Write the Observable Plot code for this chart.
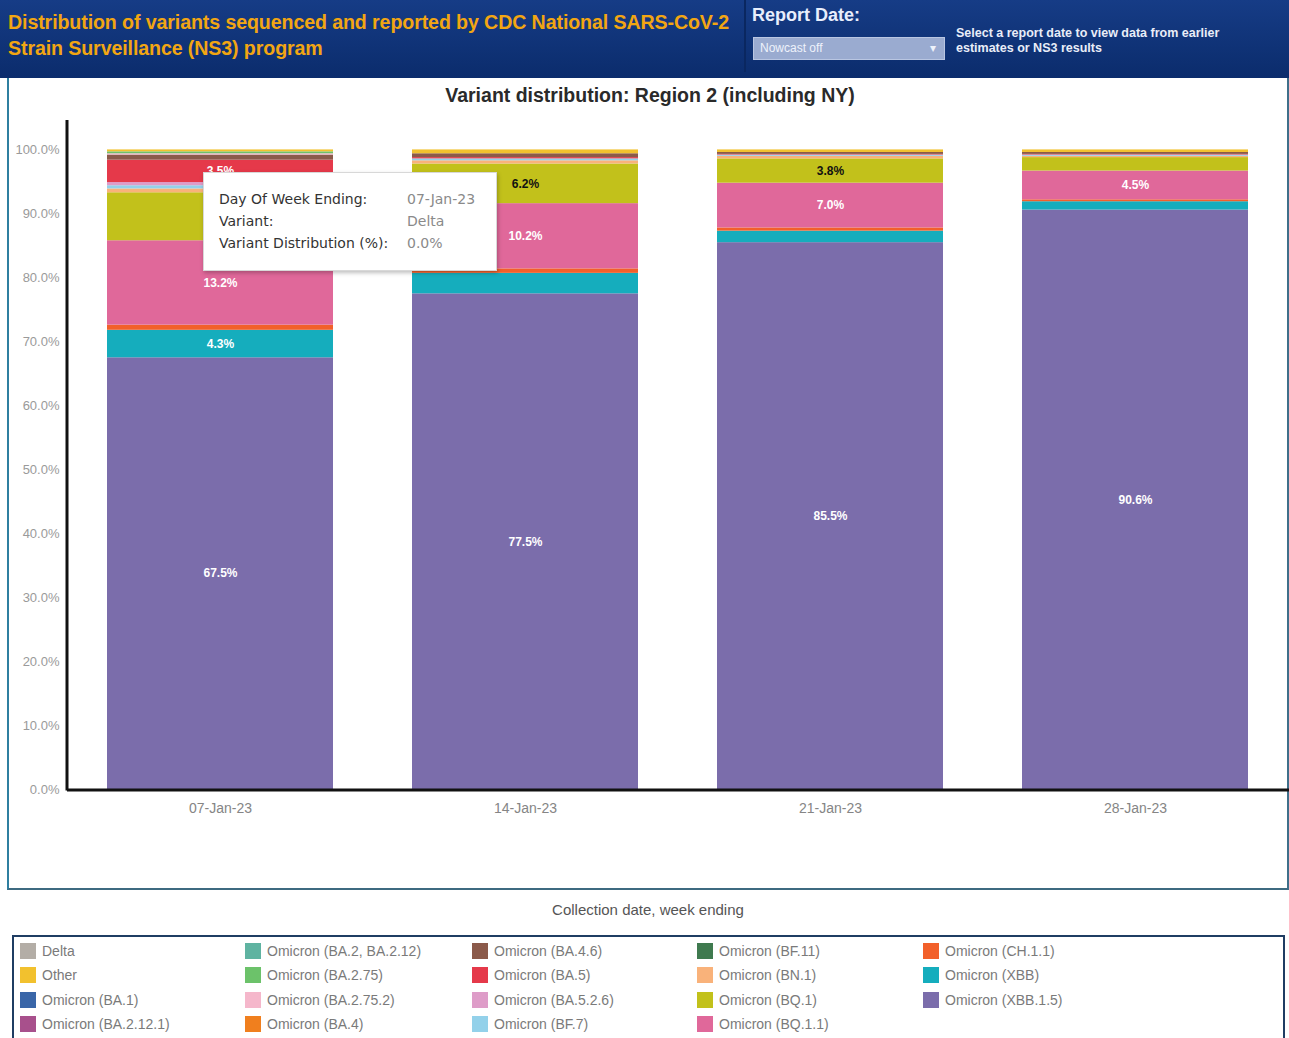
<!DOCTYPE html>
<html>
<head>
<meta charset="utf-8">
<script src="https://cdn.jsdelivr.net/npm/d3@7"></script>
<script src="https://cdn.jsdelivr.net/npm/@observablehq/plot@0.6"></script>
<style>
  html, body { margin: 0; padding: 0; background: #fff; }
  body { width: 1289px; height: 1038px; position: relative; overflow: hidden; font-family: "Liberation Sans", Arial, sans-serif; }
  #header { position: absolute; left: 0; top: 0; width: 1289px; height: 78px; background: linear-gradient(#163c86, #0b2c6c); }
  #title { position: absolute; left: 8px; top: 9px; color: #f2a612; font-weight: bold; font-size: 19.6px; line-height: 26px; letter-spacing: -0.1px; white-space: nowrap; }
  #divider { position: absolute; left: 744px; top: 0; width: 2px; height: 72px; background: #0a2760; }
  #rd { position: absolute; left: 752px; top: 5px; color: #e8eefc; font-weight: bold; font-size: 18px; }
  #dd { position: absolute; left: 753px; top: 37px; width: 192px; height: 23px; background: #9aabd0; border: 1px solid #b9c6e2; box-sizing: border-box; color: #eef2fb; font-size: 12px; line-height: 21px; padding-left: 6px; }
  #dd span { position: absolute; right: 8px; top: 0; }
  #note { position: absolute; left: 956px; top: 26px; color: #e9edf8; font-weight: bold; font-size: 12.5px; line-height: 15px; white-space: nowrap; }
  #panel { position: absolute; left: 7px; top: 78px; width: 1282px; height: 812px; border-left: 2px solid #2f7fa0; border-right: 2px solid #3f6f8a; border-bottom: 2px solid #3d6a80; box-sizing: border-box; }
  #ctitle { position: absolute; left: 0; width: 1300px; top: 84px; text-align: center; font-size: 19.5px; font-weight: bold; color: #2a2a2a; }
  #chart { position: absolute; left: 0; top: 78px; }
  #tip { position: absolute; left: 203px; top: 172px; width: 294px; height: 99px; background: #fff; border: 1px solid #d8d8d8; box-shadow: 1px 2px 4px rgba(0,0,0,0.25); box-sizing: border-box; font-family: "DejaVu Sans", sans-serif; font-size: 14px; color: #333; }
  #tip div { position: absolute; left: 15px; }
  #tip .v { left: 203px; color: #8a8a8a; }
  #xtitle { position: absolute; left: 0; width: 1296px; top: 901px; text-align: center; font-size: 15px; color: #555; }
  #legend { position: absolute; left: 12px; top: 935px; width: 1273px; height: 110px; border: 2px solid #1f3d63; box-sizing: border-box; }
  .li { position: absolute; font-size: 14px; color: #7a7a7a; line-height: 16px; white-space: nowrap; }
  .li i { display: inline-block; width: 16px; height: 16px; vertical-align: top; margin-right: 6px; }
</style>
</head>
<body>
<div id="header">
  <div id="title">Distribution of variants sequenced and reported by CDC National SARS-CoV-2<br>Strain Surveillance (NS3) program</div>
  <div id="divider"></div>
  <div id="rd">Report Date:</div>
  <div id="dd">Nowcast off<span>▾</span></div>
  <div id="note">Select a report date to view data from earlier<br>estimates or NS3 results</div>
</div>
<div id="panel"></div>
<div id="ctitle">Variant distribution: Region 2 (including NY)</div>
<div id="chart"></div>
<div id="tip">
  <div style="top:18px">Day Of Week Ending:</div><div class="v" style="top:18px">07-Jan-23</div>
  <div style="top:40px">Variant:</div><div class="v" style="top:40px">Delta</div>
  <div style="top:62px">Variant Distribution (%):</div><div class="v" style="top:62px">0.0%</div>
</div>
<div id="xtitle">Collection date, week ending</div>
<div id="legend"></div>
<script>
// ---- data ----
const weeks = ["07-Jan-23", "14-Jan-23", "21-Jan-23", "28-Jan-23"];
const variants = [
  "Delta", "Other", "Omicron (BA.1)", "Omicron (BA.2.12.1)",
  "Omicron (BA.2, BA.2.12)", "Omicron (BA.2.75)", "Omicron (BA.2.75.2)", "Omicron (BA.4)",
  "Omicron (BA.4.6)", "Omicron (BA.5)", "Omicron (BA.5.2.6)", "Omicron (BF.7)",
  "Omicron (BF.11)", "Omicron (BN.1)", "Omicron (BQ.1)", "Omicron (BQ.1.1)",
  "Omicron (CH.1.1)", "Omicron (XBB)", "Omicron (XBB.1.5)"
];
const colors = [
  "#b3ada6", "#f2c12e", "#3a66a8", "#a8508c",
  "#5fb3a1", "#6cc26a", "#f5b7cb", "#f07f1e",
  "#8b5a4a", "#e5394a", "#de9cc8", "#93d1ea",
  "#3f7a4f", "#f9b27a", "#c2c11b", "#e0689a",
  "#f2602a", "#15adbd", "#7b6dab"
];
// percentages per variant (same order as variants), one array per week
const wk1 = [0.0, 0.3, 0.0, 0.0, 0.0, 0.3, 0.2, 0.0, 0.8, 3.5, 0.5, 0.5, 0.0, 0.6, 7.5, 13.2, 0.8, 4.3, 67.5];
const wk2 = [0.0, 0.6, 0.0, 0.0, 0.0, 0.0, 0.0, 0.0, 0.6, 0.2, 0.0, 0.3, 0.0, 0.5, 6.2, 10.2, 0.7, 3.2, 77.5];
const wk3 = [0.0, 0.4, 0.0, 0.0, 0.0, 0.0, 0.0, 0.0, 0.3, 0.1, 0.0, 0.2, 0.0, 0.4, 3.8, 7.0, 0.5, 1.8, 85.5];
const wk4 = [0.0, 0.4, 0.0, 0.0, 0.0, 0.0, 0.0, 0.0, 0.3, 0.1, 0.0, 0.2, 0.0, 0.2, 2.1, 4.5, 0.3, 1.3, 90.6];
const yTicks = [0, 10, 20, 30, 40, 50, 60, 70, 80, 90, 100];

const series = [wk1, wk2, wk3, wk4];
const rows = [];
weeks.forEach((w, wi) => {
  for (let i = variants.length - 1; i >= 0; i--) {
    rows.push({week: w, variant: variants[i], value: series[wi][i]});
  }
});
const labelMin = 3.3;
const fmt = v => v.toFixed(1) + "%";

const chart = Plot.plot({
  width: 1289,
  height: 812,
  marginTop: 42,
  marginBottom: 101,
  marginLeft: 67,
  marginRight: 2,
  style: {background: "transparent", fontFamily: "Liberation Sans, Arial, sans-serif", overflow: "visible"},
  x: {domain: weeks, paddingInner: 0.26, paddingOuter: 0.13, label: null},
  y: {domain: [0, 104.6], label: null},
  color: {domain: variants, range: colors},
  marks: [
    Plot.barY(rows, {x: "week", y: "value", fill: "variant"}),
    Plot.text(rows, Plot.stackY({x: "week", y: "value", z: "variant",
      text: d => (d.value >= labelMin && d.variant !== "Omicron (BQ.1)") ? fmt(d.value) : "",
      fill: "white", fontWeight: "bold", fontSize: 12})),
    Plot.text(rows, Plot.stackY({x: "week", y: "value", z: "variant",
      text: d => (d.value >= labelMin && d.variant === "Omicron (BQ.1)") ? fmt(d.value) : "",
      fill: "#111", fontWeight: "bold", fontSize: 12})),
    Plot.axisY({ticks: yTicks, tickFormat: d => d.toFixed(1) + "%", tickSize: 0, tickPadding: 8, fontSize: 13, color: "#9a9a9a"}),
    Plot.axisX({tickSize: 0, tickPadding: 14, fontSize: 14, color: "#858585"}),
    (index, scales, values, dim) => {
      const g = d3.create("svg:g").attr("stroke", "#111").attr("stroke-width", 3);
      const yb = dim.height - dim.marginBottom;
      g.append("line").attr("x1", dim.marginLeft).attr("x2", dim.marginLeft).attr("y1", dim.marginTop).attr("y2", yb + 1.5);
      g.append("line").attr("x1", dim.marginLeft).attr("x2", dim.width).attr("y1", yb + 1).attr("y2", yb + 1);
      return g.node();
    }
  ]
});
document.getElementById("chart").appendChild(chart);

// legend: 5 columns x 4 rows, column-major
const leg = document.getElementById("legend");
const colX = [6, 231, 458, 683, 909];
const rowY = [6, 30, 55, 79];
variants.forEach((v, i) => {
  const c = Math.floor(i / 4), r = i % 4;
  const el = document.createElement("div");
  el.className = "li";
  el.style.left = colX[c] + "px";
  el.style.top = rowY[r] + "px";
  el.innerHTML = `<i style="background:${colors[i]}"></i>${v}`;
  leg.appendChild(el);
});
</script>
</body>
</html>
